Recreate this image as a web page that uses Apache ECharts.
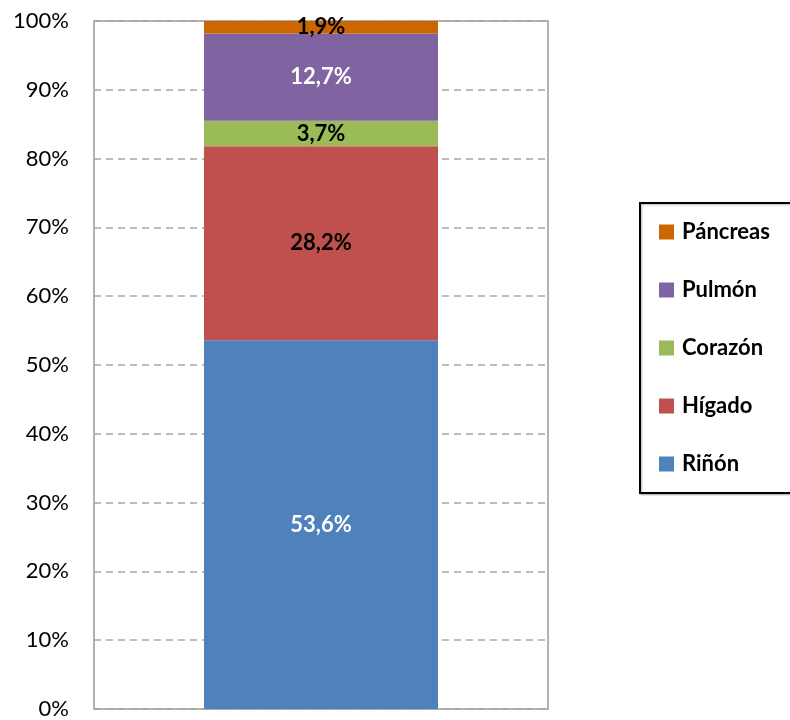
<!DOCTYPE html>
<html>
<head>
<meta charset="utf-8">
<script src="https://cdn.jsdelivr.net/npm/echarts@6/dist/echarts.min.js"></script>
<style>
  body { margin: 0; background: #fff; }
  #main { width: 790px; height: 720px; }
</style>
</head>
<body>
<div id="main"></div>
<script>
// organ shares, stacked bottom to top
var organs = ['Riñón', 'Hígado', 'Corazón', 'Pulmón', 'Páncreas']
var shares = [53.6, 28.2, 3.7, 12.7, 1.9]
var colors = ['#4F81BD', '#C0504D', '#9BBB59', '#8064A2', '#CC6600']
var labelColors = ['#fff', '#000', '#000', '#fff', '#000']
var yTicks = [0, 10, 20, 30, 40, 50, 60, 70, 80, 90, 100]

var chart = echarts.init(document.getElementById('main'))
var fontFam = 'Lato, "Open Sans", sans-serif'

var series = []
for (var i = 0; i < organs.length; i++) {
    series.push({
        name: organs[i],
        type: 'bar',
        stack: 'total',
        barWidth: 234,
        data: [shares[i]],
        itemStyle: { color: colors[i] },
        label: {
            show: true,
            position: 'inside',
            color: labelColors[i],
            fontFamily: fontFam,
            fontWeight: 'bold',
            fontSize: 22,
            formatter: function (p) {
                return p.value.toFixed(1).replace('.', ',') + '%'
            }
        }
    })
}

chart.setOption({
    animation: false,
    grid: {
        left: 94, top: 21, right: 242, bottom: 10,
        show: true, borderColor: '#999', borderWidth: 1.5
    },
    legend: {
        orient: 'vertical',
        left: 640, top: 203,
        data: organs.slice().reverse(),
        itemWidth: 15, itemHeight: 15, itemGap: 36,
        padding: [18, 30, 18, 19],
        borderColor: '#000', borderWidth: 2,
        shadowColor: 'rgba(0,0,0,0.3)', shadowBlur: 2, shadowOffsetX: 1, shadowOffsetY: 1,
        backgroundColor: '#fff',
        icon: 'rect',
        textStyle: { fontFamily: fontFam, fontWeight: 'bold', fontSize: 22, color: '#000', padding: [0, 0, 0, 3] }
    },
    xAxis: {
        type: 'category',
        data: [''],
        axisLine: { show: false },
        axisTick: { show: false },
        axisLabel: { show: false }
    },
    yAxis: {
        type: 'value',
        min: yTicks[0], max: yTicks[yTicks.length - 1], interval: 10,
        axisLine: { show: false },
        axisTick: { show: false },
        axisLabel: {
            margin: 25,
            fontFamily: fontFam, fontSize: 22, color: '#000',
            formatter: '{value}%'
        },
        splitLine: { lineStyle: { color: '#a6a6a6', type: [7, 5], width: 1.5 } }
    },
    series: series
})
</script>
</body>
</html>
